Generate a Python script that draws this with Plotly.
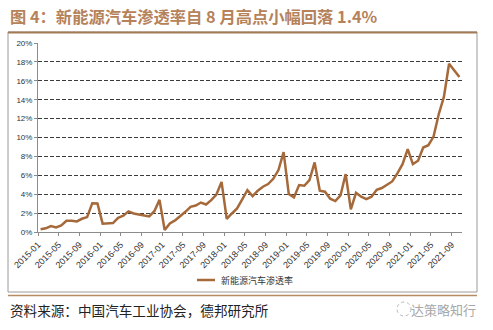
import plotly.graph_objects as go

# Monthly NEV share of total vehicle sales (%), 2015-01 .. 2021-10
months = [f"{y}-{m:02d}" for y in range(2015, 2022) for m in range(1, 13)][:82]
penetration = [
    0.28, 0.39, 0.63, 0.49, 0.70, 1.19, 1.19, 1.12, 1.40, 1.58, 3.05, 3.02,   # 2015
    0.88, 0.88, 0.95, 1.50, 1.72, 2.18, 1.96, 1.86, 1.72, 1.65, 2.20, 3.40,   # 2016
    0.21, 0.91, 1.23, 1.65, 2.14, 2.67, 2.80, 3.12, 2.91, 3.37, 3.96, 5.30,   # 2017
    1.40, 1.96, 2.49, 3.44, 4.42, 3.80, 4.37, 4.79, 5.07, 5.63, 6.55, 8.45,   # 2018
    4.01, 3.66, 4.96, 4.89, 5.49, 7.36, 4.37, 4.26, 3.52, 3.27, 3.87, 6.13,   # 2019
    2.39, 4.15, 3.73, 3.49, 3.73, 4.47, 4.65, 5.00, 5.35, 6.20, 7.18, 8.77,   # 2020
    7.18, 7.54, 8.94, 9.19, 10.10, 12.46, 14.30, 17.80, 17.10, 16.40,         # 2021
]
series_name = "新能源汽车渗透率"
title_text = "图 4：新能源汽车渗透率自 8 月高点小幅回落 1.4%"
source_text = "资料来源：中国汽车工业协会，德邦研究所"
brand_text = "达策略知行"

# every 4th month is labelled; ticks sit on category boundaries
label_idx = list(range(0, len(months), 4))
tick_vals = [i - 0.5 for i in label_idx]
tick_text = [months[i] for i in label_idx]
y_ticks = list(range(0, 21, 2))

W, H = 493, 330
L, R, T, B = 38, 462, 43, 232
LINE = "#A5693A"
SANS = "Liberation Sans, Arial, sans-serif"
CJK = "Noto Sans CJK SC, sans-serif"


def fx(px):
    return (px - L) / (R - L)


def fy(py):
    return (B - py) / (B - T)


fig = go.Figure()
fig.add_trace(go.Scatter(
    x=list(range(len(months))), y=penetration, mode="lines",
    line=dict(color=LINE, width=2.5), name=series_name, showlegend=False,
    hovertext=months,
))

shapes = [
    # outer frame
    dict(type="rect", xref="paper", yref="paper", x0=fx(8), x1=fx(477), y0=fy(292), y1=fy(32),
         line=dict(color="#9A9A9A", width=1), layer="below"),
    dict(type="line", xref="paper", yref="paper", x0=fx(8), x1=fx(477), y0=fy(32.5), y1=fy(32.5),
         line=dict(color="#A47A55", width=2)),
    dict(type="line", xref="paper", yref="paper", x0=fx(8), x1=fx(477), y0=fy(295.5), y1=fy(295.5),
         line=dict(color="#B88C62", width=1.5)),
    # legend swatch
    dict(type="line", xref="paper", yref="paper", x0=fx(197), x1=fx(215), y0=fy(280), y1=fy(280),
         line=dict(color=LINE, width=2.5)),
    # brand icon
    dict(type="circle", xref="paper", yref="paper", x0=fx(397), x1=fx(411), y0=fy(316), y1=fy(302),
         line=dict(color="#B5B5B5", width=1, dash="dot")),
]

annotations = [
    dict(text=f"<b>{title_text}</b>", xref="paper", yref="paper", x=fx(8), y=fy(16.5),
         xanchor="left", yanchor="middle", showarrow=False,
         font=dict(family=CJK, size=16.3, color="#B5825A")),
    dict(text=series_name, xref="paper", yref="paper", x=fx(219), y=fy(280),
         xanchor="left", yanchor="middle", showarrow=False,
         font=dict(family=CJK, size=9, color="#333333")),
    dict(text=source_text, xref="paper", yref="paper", x=fx(8), y=fy(310),
         xanchor="left", yanchor="middle", showarrow=False,
         font=dict(family=CJK, size=13.6, color="#222222")),
    dict(text=brand_text, xref="paper", yref="paper", x=fx(478), y=fy(309),
         xanchor="right", yanchor="middle", showarrow=False,
         font=dict(family=CJK, size=13, color="#A8A8A8")),
]

fig.update_layout(
    width=W, height=H,
    margin=dict(l=L, r=W - R, t=T, b=H - B, pad=0),
    paper_bgcolor="white", plot_bgcolor="white",
    shapes=shapes, annotations=annotations,
    xaxis=dict(
        range=[-0.5, len(months) - 0.5], tickmode="array", tickvals=tick_vals, ticktext=tick_text,
        tickangle=-45, tickfont=dict(family=SANS, size=9, color="#333333"),
        showgrid=False, zeroline=False, showline=True, linecolor="#8C8C8C", linewidth=1,
        ticks="outside", ticklen=3, tickcolor="#8C8C8C",
    ),
    yaxis=dict(
        range=[0, 20], tickmode="array", tickvals=y_ticks, ticktext=[f"{v}%" for v in y_ticks],
        tickfont=dict(family=SANS, size=8, color="#333333"),
        showgrid=True, gridcolor="#3C3C3C", gridwidth=1, griddash="4px,2px",
        zeroline=False, showline=True, linecolor="#8C8C8C", linewidth=1,
        ticks="outside", ticklen=3, tickcolor="#8C8C8C",
    ),
)

fig.write_html("out.html")
